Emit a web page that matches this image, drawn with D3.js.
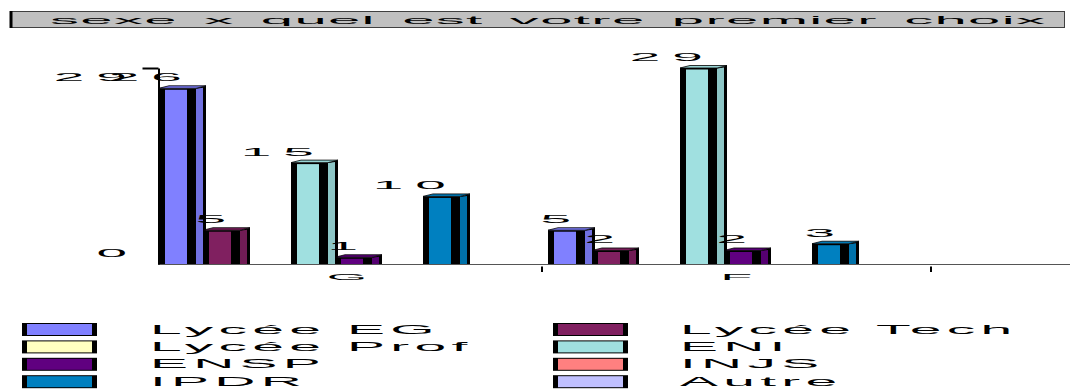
<!DOCTYPE html>
<html>
<head>
<meta charset="utf-8">
<script src="https://cdn.jsdelivr.net/npm/d3@7"></script>
<style>
  html, body { margin: 0; padding: 0; background: #fff; }
  svg { display: block; }
</style>
</head>
<body>
<svg id="chart" width="1070" height="389"></svg>
<script>
var title = 'sexe x quel est votre premier choix';
var categories = ['G', 'F'];
var series = ['Lycée EG', 'Lycée Tech', 'Lycée Prof', 'ENI', 'ENSP', 'INJS', 'IPDR', 'Autre'];
var valuesG = [26, 5, 0, 15, 1, 0, 10, 0];
var valuesF = [5, 2, 0, 29, 2, 0, 3, 0];
var seriesColors = ['#8080ff', '#802060', '#ffffc0', '#a0e0e0', '#600080', '#ff8080', '#0080c0', '#c0c0ff'];
var yTicks = [0, 29];

var svg = d3.select('#chart');
var font = '"Liberation Sans", Arial, sans-serif';

// stretched text, like the original export
function stretchText(parent, str, x, y, o) {
  var t = parent.append('text')
    .text(str)
    .attr('font-family', font)
    .attr('font-size', o.fs)
    .attr('letter-spacing', o.ls || 0)
    .attr('word-spacing', o.ws || 0)
    .attr('fill', '#000');
  var bb = t.node().getBBox();
  var w = bb.width - (o.ls || 0);
  var sx = o.width ? o.width / w : o.sx;
  var left = x - sx * bb.x;
  if (o.anchor === 'end') left -= sx * w;
  else if (o.anchor === 'middle') left -= sx * w / 2;
  t.attr('transform', 'translate(' + left + ',' + y + ') scale(' + sx + ',1)');
  return t;
}

// title box
svg.append('rect')
  .attr('x', 10.5).attr('y', 11.5).attr('width', 1054).attr('height', 16)
  .attr('fill', '#c0c0c0').attr('stroke', '#404040').attr('stroke-width', 1);
svg.append('line')
  .attr('x1', 11).attr('x2', 11).attr('y1', 11).attr('y2', 28)
  .attr('stroke', '#000').attr('stroke-width', 3);
stretchText(svg, title, 50, 23.5, { fs: 10.5, ls: 0.25, ws: 1.6, width: 998 });

// data table
var table = categories.map(function (c, ci) {
  var vals = ci === 0 ? valuesG : valuesF;
  return series.map(function (s, si) {
    return { cat: c, series: s, value: vals[si], color: seriesColors[si] };
  });
});
var flat = d3.merge(table);

var x0 = d3.scaleBand().domain(categories).range([153, 931]);
var x1 = d3.scaleBand().domain(series).range([6, 6 + series.length * 44]);
var y = d3.scaleLinear().domain([0, 29]).range([264, 68]);
var yLabel = d3.scaleLinear().domain([0, 29]).range([256.5, 81]);

var frontW = 37, depthX = 10, depthY = 2.5;

var chartG = svg.append('g');

// baseline
chartG.append('line')
  .attr('x1', 158).attr('x2', 1070).attr('y1', y(0) + 0.5).attr('y2', y(0) + 0.5)
  .attr('stroke', '#555').attr('stroke-width', 1.2);

// category boundary ticks
chartG.selectAll('.cat-tick')
  .data(categories)
  .enter().append('line')
  .attr('class', 'cat-tick')
  .attr('x1', d => x0(d) + x0.bandwidth()).attr('x2', d => x0(d) + x0.bandwidth())
  .attr('y1', y(0) + 2.5).attr('y2', y(0) + 8)
  .attr('stroke', '#000').attr('stroke-width', 2);

// y axis
var yAxisG = chartG.append('g')
  .attr('transform', 'translate(158.5,0)')
  .call(d3.axisLeft(y).tickValues([29]).tickSize(16).tickFormat('').tickSizeOuter(0));
yAxisG.select('.domain').attr('stroke', '#000').attr('stroke-width', 2);
yAxisG.selectAll('.tick line').attr('stroke', '#000').attr('stroke-width', 2);

// bars
var bars = chartG.selectAll('.bar')
  .data(flat.filter(d => d.value > 0))
  .enter().append('g')
  .attr('class', 'bar');

function darker(c, k) { return d3.color(c).darker(k).formatHex(); }

bars.each(function (d) {
  var g = d3.select(this);
  var bx = x0(d.cat) + x1(d.series);
  var yt = y(d.value), yb = y(0);
  // front outline
  g.append('rect').attr('x', bx).attr('y', yt).attr('width', frontW).attr('height', yb - yt)
    .attr('fill', '#000');
  g.append('rect').attr('x', bx + 6).attr('y', yt + 1.5).attr('width', 22).attr('height', Math.max(0, yb - yt - 1.5))
    .attr('fill', d.color);
  // side face
  g.append('path')
    .attr('d', 'M' + (bx + frontW) + ',' + yt + 'L' + (bx + frontW + depthX) + ',' + (yt - depthY) +
      'L' + (bx + frontW + depthX) + ',' + yb + 'L' + (bx + frontW) + ',' + yb + 'Z')
    .attr('fill', '#000');
  g.append('path')
    .attr('d', 'M' + (bx + frontW) + ',' + (yt + 0.5) + 'L' + (bx + frontW + 7) + ',' + (yt - depthY + 2) +
      'L' + (bx + frontW + 7) + ',' + yb + 'L' + (bx + frontW) + ',' + yb + 'Z')
    .attr('fill', darker(d.color, 0.35));
  // top face
  g.append('path')
    .attr('d', 'M' + bx + ',' + yt + 'L' + (bx + depthX) + ',' + (yt - depthY) +
      'L' + (bx + frontW + depthX) + ',' + (yt - depthY) + 'L' + (bx + frontW) + ',' + yt + 'Z')
    .attr('fill', darker(d.color, 0.15)).attr('stroke', '#000').attr('stroke-width', 0.8);
});

// value labels
var digitOpts = { fs: 10, ls: 2.2, sx: 5.5, anchor: 'end' };
flat.filter(d => d.value > 0).forEach(function (d) {
  var bx = x0(d.cat) + x1(d.series);
  stretchText(chartG, String(d.value), bx + 23, y(d.value) - 7, digitOpts);
});

// y tick labels
yTicks.forEach(function (v) {
  stretchText(chartG, String(v), 127, yLabel(v), digitOpts);
});

// category labels
categories.forEach(function (c) {
  stretchText(chartG, c, x0(c) + x0.bandwidth() / 2, 280, { fs: 10, ls: 0, sx: 5.2, anchor: 'middle' });
});

// legend
var legendG = svg.append('g');
series.forEach(function (s, i) {
  var col = i % 2, row = Math.floor(i / 2);
  var sx0 = col === 0 ? 22 : 553;
  var tx = col === 0 ? 150 : 680;
  var ty = 323 + row * 17.4;
  legendG.append('rect').attr('x', sx0).attr('y', ty).attr('width', 75).attr('height', 13).attr('fill', '#000');
  legendG.append('rect').attr('x', sx0 + 5).attr('y', ty + 1).attr('width', 65).attr('height', 11)
    .attr('fill', seriesColors[i]);
  stretchText(legendG, s, tx, ty + 10.5, { fs: 12, ls: 1.1, sx: 4.75 });
});
</script>
</body>
</html>
